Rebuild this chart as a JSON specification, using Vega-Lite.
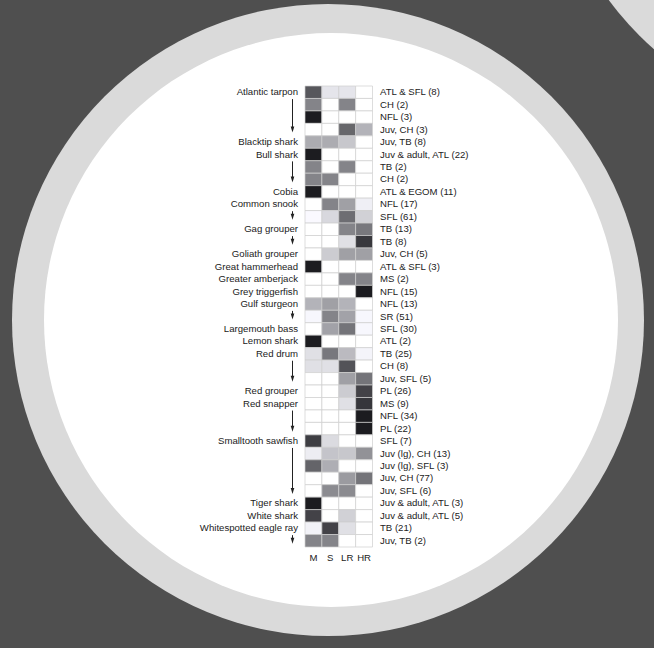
{
  "$schema": "https://vega.github.io/schema/vega-lite/v6.json",
  "autosize": {"type": "none"},
  "width": 67.5,
  "height": 461,
  "padding": {"left": 305, "top": 86, "right": 281.5, "bottom": 101},
  "background": "#4f4f4f",
  "config": {
    "view": {"stroke": null},
    "font": "Liberation Sans",
    "text": {"font": "Liberation Sans", "fontSize": 9.6, "color": "#222222"}
  },
  "datasets": {
    "backdrop": [{"piece": "disc"}],
    "rows": [
      {"row": 1, "species": "Atlantic tarpon", "site": "ATL & SFL (8)", "M": 0.7, "S": 0.1, "LR": 0.1, "HR": 0},
      {"row": 2, "species": "", "site": "CH (2)", "M": 0.5, "S": 0, "LR": 0.5, "HR": 0},
      {"row": 3, "species": "", "site": "NFL (3)", "M": 1, "S": 0, "LR": 0, "HR": 0},
      {"row": 4, "species": "", "site": "Juv, CH (3)", "M": 0, "S": 0, "LR": 0.63, "HR": 0.3},
      {"row": 5, "species": "Blacktip shark", "site": "Juv, TB (8)", "M": 0.33, "S": 0.33, "LR": 0.22, "HR": 0},
      {"row": 6, "species": "Bull shark", "site": "Juv & adult, ATL (22)", "M": 1, "S": 0, "LR": 0, "HR": 0},
      {"row": 7, "species": "", "site": "TB (2)", "M": 0.5, "S": 0, "LR": 0.5, "HR": 0},
      {"row": 8, "species": "", "site": "CH (2)", "M": 0.5, "S": 0.5, "LR": 0, "HR": 0},
      {"row": 9, "species": "Cobia", "site": "ATL & EGOM (11)", "M": 1, "S": 0, "LR": 0, "HR": 0},
      {"row": 10, "species": "Common snook", "site": "NFL (17)", "M": 0, "S": 0.5, "LR": 0.38, "HR": 0.06},
      {"row": 11, "species": "", "site": "SFL (61)", "M": 0.02, "S": 0.15, "LR": 0.6, "HR": 0.18},
      {"row": 12, "species": "Gag grouper", "site": "TB (13)", "M": 0, "S": 0, "LR": 0.5, "HR": 0.55},
      {"row": 13, "species": "", "site": "TB (8)", "M": 0, "S": 0, "LR": 0.12, "HR": 0.85},
      {"row": 14, "species": "Goliath grouper", "site": "Juv, CH (5)", "M": 0, "S": 0.2, "LR": 0.38, "HR": 0.38},
      {"row": 15, "species": "Great hammerhead", "site": "ATL & SFL (3)", "M": 1, "S": 0, "LR": 0, "HR": 0},
      {"row": 16, "species": "Greater amberjack", "site": "MS (2)", "M": 0, "S": 0, "LR": 0.5, "HR": 0.5},
      {"row": 17, "species": "Grey triggerfish", "site": "NFL (15)", "M": 0, "S": 0, "LR": 0, "HR": 1},
      {"row": 18, "species": "Gulf sturgeon", "site": "NFL (13)", "M": 0.3, "S": 0.38, "LR": 0.3, "HR": 0},
      {"row": 19, "species": "", "site": "SR (51)", "M": 0.03, "S": 0.5, "LR": 0.37, "HR": 0.03},
      {"row": 20, "species": "Largemouth bass", "site": "SFL (30)", "M": 0, "S": 0.37, "LR": 0.57, "HR": 0.03},
      {"row": 21, "species": "Lemon shark", "site": "ATL (2)", "M": 1, "S": 0, "LR": 0, "HR": 0},
      {"row": 22, "species": "Red drum", "site": "TB (25)", "M": 0.12, "S": 0.55, "LR": 0.27, "HR": 0.04},
      {"row": 23, "species": "", "site": "CH (8)", "M": 0.12, "S": 0.12, "LR": 0.72, "HR": 0},
      {"row": 24, "species": "", "site": "Juv, SFL (5)", "M": 0, "S": 0, "LR": 0.38, "HR": 0.57},
      {"row": 25, "species": "Red grouper", "site": "PL (26)", "M": 0, "S": 0, "LR": 0.2, "HR": 0.8},
      {"row": 26, "species": "Red snapper", "site": "MS (9)", "M": 0, "S": 0, "LR": 0.12, "HR": 0.86},
      {"row": 27, "species": "", "site": "NFL (34)", "M": 0, "S": 0, "LR": 0, "HR": 1},
      {"row": 28, "species": "", "site": "PL (22)", "M": 0, "S": 0, "LR": 0, "HR": 1},
      {"row": 29, "species": "Smalltooth sawfish", "site": "SFL (7)", "M": 0.82, "S": 0.14, "LR": 0, "HR": 0},
      {"row": 30, "species": "", "site": "Juv (lg), CH (13)", "M": 0.07, "S": 0.23, "LR": 0.22, "HR": 0.44},
      {"row": 31, "species": "", "site": "Juv (lg), SFL (3)", "M": 0.64, "S": 0.32, "LR": 0, "HR": 0},
      {"row": 32, "species": "", "site": "Juv, CH (77)", "M": 0, "S": 0, "LR": 0.4, "HR": 0.57},
      {"row": 33, "species": "", "site": "Juv, SFL (6)", "M": 0, "S": 0.47, "LR": 0.47, "HR": 0},
      {"row": 34, "species": "Tiger shark", "site": "Juv & adult, ATL (3)", "M": 1, "S": 0, "LR": 0, "HR": 0},
      {"row": 35, "species": "White shark", "site": "Juv & adult, ATL (5)", "M": 0.8, "S": 0, "LR": 0.18, "HR": 0},
      {"row": 36, "species": "Whitespotted eagle ray", "site": "TB (21)", "M": 0.05, "S": 0.8, "LR": 0.12, "HR": 0},
      {"row": 37, "species": "", "site": "Juv, TB (2)", "M": 0.5, "S": 0.5, "LR": 0, "HR": 0}
    ],
    "arrows": [
      {"from": 2, "to": 4},
      {"from": 7, "to": 8},
      {"from": 11, "to": 11},
      {"from": 13, "to": 13},
      {"from": 19, "to": 19},
      {"from": 23, "to": 24},
      {"from": 27, "to": 28},
      {"from": 30, "to": 33},
      {"from": 37, "to": 37}
    ]
  },
  "layer": [
    {
      "description": "corner of a neighbouring ring",
      "data": {"name": "backdrop"},
      "mark": {"type": "point", "shape": "circle", "filled": true, "color": "#dadada", "opacity": 1, "size": 399424, "xOffset": 524, "yOffset": -504.5},
      "encoding": {}
    },
    {
      "description": "outer light ring",
      "data": {"name": "backdrop"},
      "mark": {"type": "point", "shape": "circle", "filled": true, "color": "#dadada", "opacity": 1, "size": 399424, "xOffset": -10.75, "yOffset": 3.5},
      "encoding": {}
    },
    {
      "description": "white disc behind the table",
      "data": {"name": "backdrop"},
      "mark": {"type": "point", "shape": "circle", "filled": true, "color": "#ffffff", "opacity": 1, "size": 329476, "xOffset": -7.75, "yOffset": 3.5},
      "encoding": {}
    },
    {
      "data": {"name": "rows"},
      "transform": [{"fold": ["M", "S", "LR", "HR"], "as": ["habitat", "v"]}],
      "mark": {"type": "rect", "stroke": "#cfcfcf", "strokeWidth": 0.7},
      "encoding": {
        "x": {
          "field": "habitat", "type": "nominal", "sort": ["M", "S", "LR", "HR"],
          "axis": {"title": null, "orient": "bottom", "domain": false, "ticks": false, "labelAngle": 0, "labelPadding": 5, "labelFont": "Liberation Sans", "labelFontSize": 9.6, "labelColor": "#222222"}
        },
        "y": {"field": "row", "type": "ordinal", "axis": null},
        "color": {"field": "v", "type": "quantitative", "scale": {"domain": [0, 1], "range": ["#ffffff", "#1c1c20"]}, "legend": null}
      }
    },
    {
      "data": {"name": "rows"},
      "mark": {"type": "text", "align": "right", "baseline": "middle", "dx": -7},
      "encoding": {
        "x": {"datum": "M", "bandPosition": 0},
        "y": {"field": "row", "type": "ordinal"},
        "text": {"field": "species"}
      }
    },
    {
      "data": {"name": "rows"},
      "mark": {"type": "text", "align": "left", "baseline": "middle", "dx": 7.5},
      "encoding": {
        "x": {"datum": "HR", "bandPosition": 1},
        "y": {"field": "row", "type": "ordinal"},
        "text": {"field": "site"}
      }
    },
    {
      "data": {"name": "arrows"},
      "mark": {"type": "rule", "color": "#222222", "strokeWidth": 1, "xOffset": -12.5},
      "encoding": {
        "x": {"datum": "M", "bandPosition": 0},
        "y": {"field": "from", "type": "ordinal", "bandPosition": 0.05},
        "y2": {"field": "to"}
      }
    },
    {
      "data": {"name": "arrows"},
      "mark": {"type": "point", "shape": "M -0.6 -1 L 0.6 -1 L 0 1 Z", "filled": true, "color": "#222222", "opacity": 1, "size": 36, "xOffset": -12.5},
      "encoding": {
        "x": {"datum": "M", "bandPosition": 0},
        "y": {"field": "to", "type": "ordinal"}
      }
    }
  ]
}
